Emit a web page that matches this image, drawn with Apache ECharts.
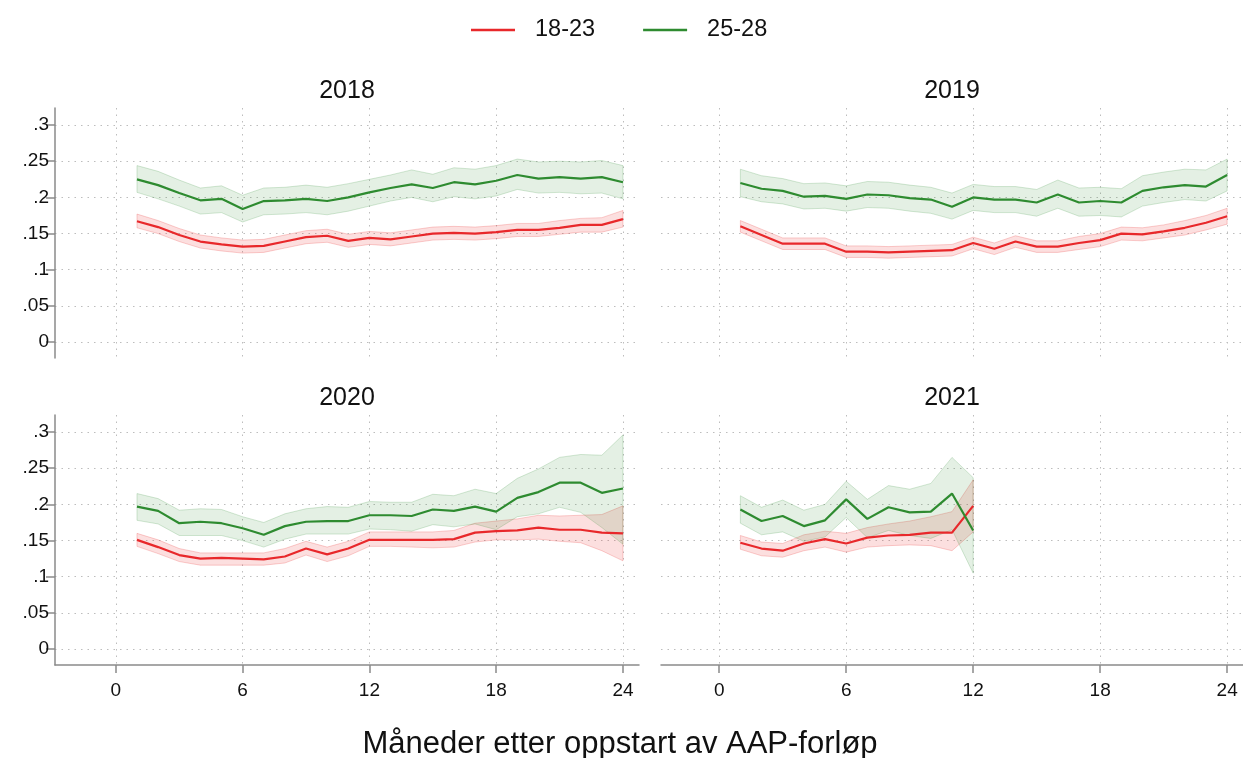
<!DOCTYPE html>
<html>
<head>
<meta charset="utf-8">
<script src="https://cdn.jsdelivr.net/npm/echarts@6/dist/echarts.min.js"></script>
<style>
html, body { margin: 0; padding: 0; background: #fff; }
#main { width: 1243px; height: 758px; }
</style>
</head>
<body>
<div id="main"></div>
<script>
// maaneder etter oppstart
var months = [1,2,3,4,5,6,7,8,9,10,11,12,13,14,15,16,17,18,19,20,21,22,23,24];
var years = ['2018', '2019', '2020', '2021'];
var xTicks = [0, 6, 12, 18, 24];
var yTicks = [0, 0.05, 0.1, 0.15, 0.2, 0.25, 0.3];

// 18-23
var young_2018    = [0.167,0.159,0.148,0.139,0.135,0.132,0.133,0.139,0.145,0.147,0.140,0.144,0.142,0.146,0.150,0.151,0.150,0.152,0.155,0.155,0.158,0.162,0.162,0.170];
var young_lo_2018 = [0.158,0.150,0.139,0.130,0.126,0.123,0.124,0.130,0.136,0.138,0.131,0.135,0.133,0.137,0.141,0.142,0.141,0.143,0.146,0.146,0.149,0.152,0.152,0.159];
var young_hi_2018 = [0.177,0.168,0.157,0.148,0.144,0.141,0.142,0.148,0.154,0.156,0.149,0.153,0.151,0.155,0.159,0.160,0.159,0.161,0.164,0.164,0.168,0.171,0.172,0.182];
var young_2019    = [0.160,0.148,0.136,0.136,0.136,0.125,0.125,0.124,0.125,0.126,0.127,0.137,0.129,0.139,0.132,0.132,0.137,0.141,0.150,0.149,0.153,0.158,0.165,0.174];
var young_lo_2019 = [0.152,0.140,0.128,0.128,0.128,0.117,0.117,0.116,0.117,0.118,0.119,0.129,0.121,0.131,0.124,0.124,0.128,0.132,0.141,0.140,0.144,0.148,0.155,0.163];
var young_hi_2019 = [0.168,0.156,0.144,0.144,0.144,0.133,0.133,0.132,0.133,0.134,0.135,0.145,0.137,0.147,0.140,0.140,0.146,0.150,0.159,0.158,0.162,0.168,0.175,0.185];
var young_2020    = [0.151,0.141,0.130,0.125,0.126,0.125,0.124,0.128,0.139,0.131,0.139,0.151,0.151,0.151,0.151,0.152,0.161,0.163,0.164,0.168,0.165,0.165,0.161,0.160];
var young_lo_2020 = [0.142,0.132,0.121,0.116,0.116,0.116,0.116,0.119,0.130,0.121,0.129,0.142,0.142,0.141,0.140,0.141,0.148,0.151,0.151,0.152,0.149,0.147,0.136,0.122];
var young_hi_2020 = [0.160,0.151,0.139,0.133,0.133,0.133,0.133,0.139,0.149,0.141,0.149,0.162,0.162,0.162,0.162,0.164,0.174,0.177,0.180,0.185,0.184,0.185,0.186,0.198];
var young_2021    = [0.147,0.139,0.136,0.146,0.152,0.146,0.154,0.157,0.158,0.161,0.161,0.198];
var young_lo_2021 = [0.138,0.129,0.127,0.136,0.141,0.134,0.141,0.143,0.144,0.143,0.136,0.162];
var young_hi_2021 = [0.157,0.148,0.146,0.158,0.163,0.160,0.168,0.173,0.177,0.183,0.190,0.234];

// 25-28
var old_2018    = [0.225,0.217,0.206,0.196,0.198,0.184,0.195,0.196,0.198,0.195,0.200,0.207,0.213,0.218,0.213,0.221,0.218,0.223,0.231,0.226,0.228,0.226,0.228,0.221];
var old_lo_2018 = [0.207,0.198,0.188,0.177,0.179,0.166,0.176,0.177,0.179,0.176,0.181,0.188,0.195,0.200,0.194,0.201,0.198,0.202,0.211,0.206,0.207,0.205,0.206,0.198];
var old_hi_2018 = [0.244,0.236,0.224,0.213,0.216,0.203,0.213,0.214,0.217,0.214,0.219,0.225,0.231,0.238,0.232,0.241,0.239,0.244,0.253,0.249,0.250,0.249,0.251,0.244];
var old_2019    = [0.220,0.212,0.209,0.201,0.202,0.198,0.204,0.203,0.199,0.197,0.187,0.200,0.197,0.197,0.193,0.204,0.193,0.195,0.193,0.209,0.214,0.217,0.215,0.231];
var old_lo_2019 = [0.201,0.194,0.191,0.184,0.185,0.181,0.186,0.185,0.181,0.178,0.170,0.182,0.179,0.179,0.174,0.185,0.174,0.175,0.173,0.188,0.193,0.197,0.195,0.209];
var old_hi_2019 = [0.239,0.230,0.226,0.219,0.220,0.216,0.222,0.221,0.217,0.214,0.206,0.218,0.215,0.215,0.211,0.224,0.213,0.214,0.212,0.230,0.235,0.239,0.238,0.253];
var old_2020    = [0.197,0.191,0.174,0.176,0.174,0.167,0.158,0.170,0.176,0.177,0.177,0.185,0.185,0.184,0.193,0.191,0.197,0.190,0.209,0.217,0.230,0.230,0.216,0.222];
var old_lo_2020 = [0.178,0.173,0.157,0.157,0.157,0.150,0.141,0.152,0.159,0.159,0.159,0.166,0.165,0.163,0.172,0.169,0.173,0.165,0.183,0.187,0.196,0.189,0.168,0.145];
var old_hi_2020 = [0.215,0.208,0.192,0.194,0.193,0.183,0.175,0.187,0.194,0.197,0.196,0.204,0.203,0.203,0.214,0.212,0.221,0.215,0.236,0.249,0.265,0.269,0.268,0.296];
var old_2021    = [0.193,0.177,0.184,0.170,0.178,0.207,0.180,0.196,0.189,0.190,0.215,0.164];
var old_lo_2021 = [0.174,0.158,0.162,0.149,0.155,0.182,0.154,0.164,0.157,0.153,0.165,0.105];
var old_hi_2021 = [0.212,0.196,0.206,0.192,0.200,0.232,0.207,0.226,0.221,0.229,0.265,0.237];

var young = [young_2018, young_2019, young_2020, young_2021];
var young_lo = [young_lo_2018, young_lo_2019, young_lo_2020, young_lo_2021];
var young_hi = [young_hi_2018, young_hi_2019, young_hi_2020, young_hi_2021];
var old = [old_2018, old_2019, old_2020, old_2021];
var old_lo = [old_lo_2018, old_lo_2019, old_lo_2020, old_lo_2021];
var old_hi = [old_hi_2018, old_hi_2019, old_hi_2020, old_hi_2021];

var RED = '#e8282b';
var GREEN = '#2e8b30';
var FONT = 'Liberation Sans, Arial, sans-serif';

function pairs(vals) {
    var out = [];
    for (var i = 0; i < vals.length; i++) {
        out.push([months[i], vals[i]]);
    }
    return out;
}

// konfidensbånd som polygon: nedre kant fram, øvre kant tilbake
function band(idx, lo, hi, edge, fill) {
    return {
        type: 'custom', xAxisIndex: idx, yAxisIndex: idx, silent: true, z: 1,
        data: [[months[0], lo[0]]],
        renderItem: function (params, api) {
            var pts = [];
            for (var k = 0; k < lo.length; k++) {
                pts.push(api.coord([months[k], lo[k]]));
            }
            for (var k = hi.length - 1; k >= 0; k--) {
                pts.push(api.coord([months[k], hi[k]]));
            }
            return {
                type: 'polygon',
                shape: {points: pts},
                style: {fill: fill, stroke: edge, lineWidth: 1}
            };
        }
    };
}

function init_chart() {
    var chart = echarts.init(document.getElementById('main'));

    var grids = [
        {left: 55, top: 108, width: 584, height: 250},
        {left: 661, top: 108, width: 582, height: 250},
        {left: 55, top: 415, width: 584, height: 250},
        {left: 661, top: 415, width: 582, height: 250}
    ];
    var xRange = [[-2.88, 24.76], [-2.75, 24.75], [-2.88, 24.76], [-2.75, 24.75]];
    var dotted = {show: true, lineStyle: {color: '#bdbdbd', width: 1, type: [1.5, 5]}};

    var xAxes = [], yAxes = [], titles = [], series = [];
    for (var i = 0; i < 4; i++) {
        var bottom = i >= 2;
        var left = i % 2 == 0;
        xAxes.push({
            type: 'value', gridIndex: i, min: xRange[i][0], max: xRange[i][1],
            axisLine: {show: bottom, onZero: false, lineStyle: {color: '#8a8a8a', width: 1.5}},
            axisTick: {show: bottom, customValues: xTicks, length: 8, lineStyle: {color: '#8a8a8a', width: 1.5}},
            axisLabel: {show: bottom, customValues: xTicks, margin: 16, fontSize: 19, color: '#111', fontFamily: FONT},
            splitLine: dotted
        });
        yAxes.push({
            type: 'value', gridIndex: i, min: -0.022, max: 0.3236,
            axisLine: {show: left, onZero: false, lineStyle: {color: '#8a8a8a', width: 1.5}},
            axisTick: {show: left, customValues: yTicks, length: 9, lineStyle: {color: '#8a8a8a', width: 1.5}},
            axisLabel: {
                show: left, customValues: yTicks, margin: 6, fontSize: 19, color: '#111', fontFamily: FONT,
                formatter: function (v) { return v == 0 ? '0' : String(v).replace(/^0/, ''); }
            },
            splitLine: dotted
        });
        titles.push({
            text: years[i], left: left ? 347 : 952, top: bottom ? 386 : 79, textAlign: 'center', padding: 0,
            textStyle: {fontSize: 25, fontWeight: 'normal', color: '#111', fontFamily: FONT}
        });

        series.push(band(i, young_lo[i], young_hi[i], 'rgba(232,40,43,0.22)', 'rgba(232,40,43,0.15)'));
        series.push(band(i, old_lo[i], old_hi[i], 'rgba(46,139,48,0.2)', 'rgba(46,139,48,0.13)'));
        series.push({
            name: '18-23', type: 'line', xAxisIndex: i, yAxisIndex: i, symbol: 'none', z: 3,
            color: RED, lineStyle: {color: RED, width: 2.2}, data: pairs(young[i])
        });
        series.push({
            name: '25-28', type: 'line', xAxisIndex: i, yAxisIndex: i, symbol: 'none', z: 3,
            color: GREEN, lineStyle: {color: GREEN, width: 2.2}, data: pairs(old[i])
        });
    }
    titles.push({
        text: 'Måneder etter oppstart av AAP-forløp', left: 620, top: 729, textAlign: 'center', padding: 0,
        textStyle: {fontSize: 31, fontWeight: 'normal', color: '#111', fontFamily: FONT}
    });

    var option = {
        animation: false,
        backgroundColor: '#fff',
        title: titles,
        legend: {
            data: ['18-23', '25-28'],
            top: 18, left: 471, padding: 0,
            icon: 'rect', itemWidth: 44, itemHeight: 2.5, itemGap: 48,
            textStyle: {fontSize: 23.5, color: '#111', fontFamily: FONT, padding: [0, 0, 0, 15]}
        },
        grid: grids,
        xAxis: xAxes,
        yAxis: yAxes,
        series: series
    };
    chart.setOption(option);
}

init_chart();
</script>
</body>
</html>
